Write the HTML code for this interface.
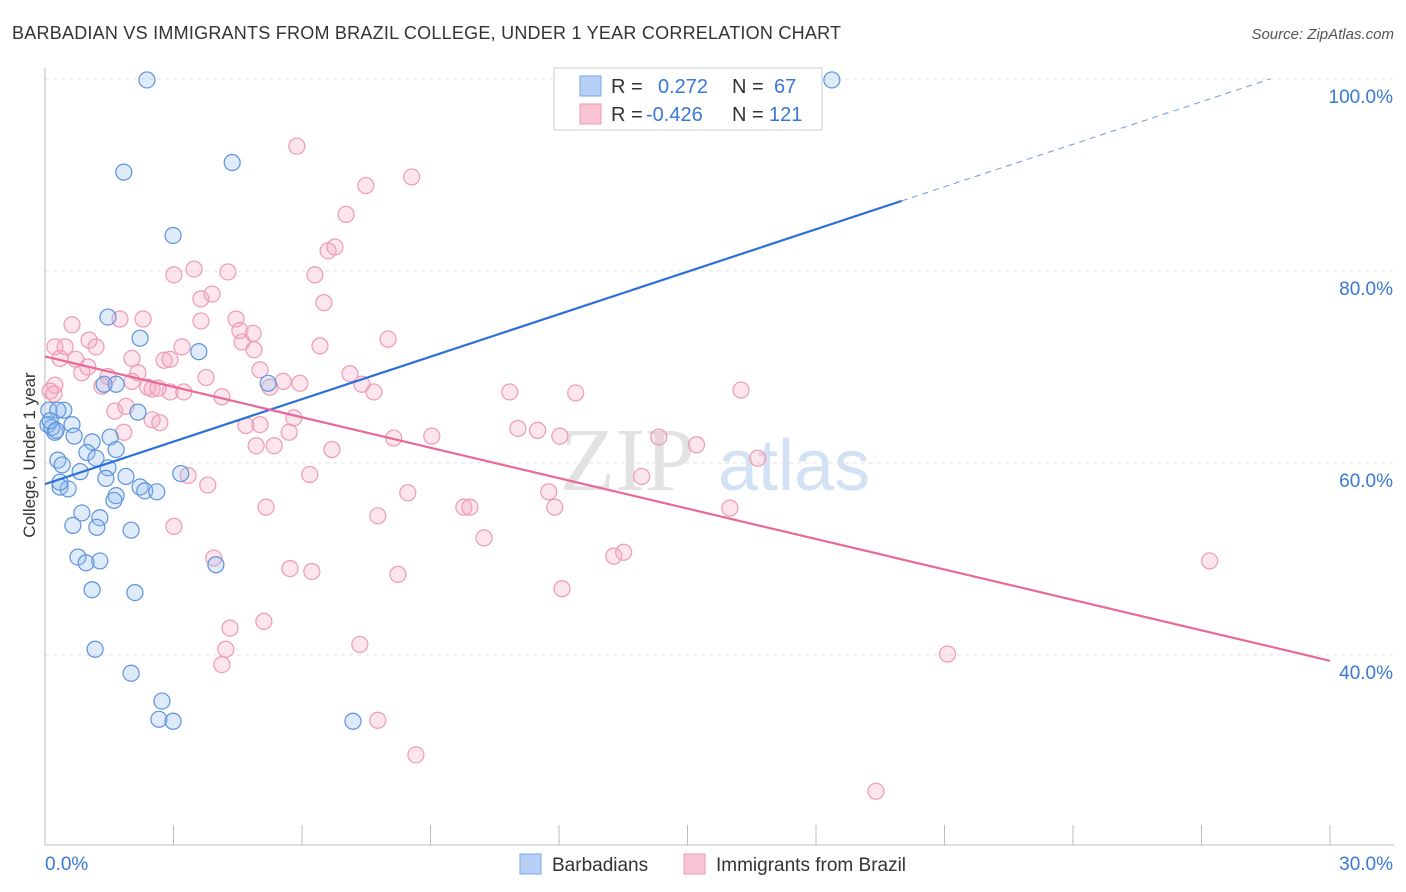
<!DOCTYPE html>
<html><head><meta charset="utf-8"><style>
body{margin:0;background:#fff;font-family:"Liberation Sans",sans-serif;}
svg{display:block}
</style></head><body>
<svg id="chart" width="1406" height="892">
<text x="12" y="39" font-size="18" fill="#333" textLength="829">BARBADIAN VS IMMIGRANTS FROM BRAZIL COLLEGE, UNDER 1 YEAR CORRELATION CHART</text>
<text x="1394" y="39" font-size="15" fill="#555" font-style="italic" text-anchor="end">Source: ZipAtlas.com</text>
<text x="35" y="455" font-size="17" fill="#333" text-anchor="middle" transform="rotate(-90 35 455)">College, Under 1 year</text>
<text x="560" y="490" font-size="90" fill="#e2e2e2" font-family="Liberation Serif,serif">ZIP</text>
<text x="718" y="490" font-size="72" fill="#d3e1f4">atlas</text>
<g id="grid"></g><g id="pts"></g><g id="lines"></g>
<g>
<rect x="554" y="68" width="268" height="62" fill="#fff" stroke="#ccc"/>
<rect x="580" y="76" width="21" height="20" fill="#b6d1f5" stroke="#7aa8e6"/>
<rect x="580" y="104" width="21" height="20" fill="#f8c4d3" stroke="#ee9ab4"/>
<text x="611" y="93" font-size="20" fill="#333">R = </text><text x="658" y="93" font-size="20" fill="#3a78d6">0.272</text>
<text x="732" y="93" font-size="20" fill="#333">N = </text><text x="774" y="93" font-size="20" fill="#3a78d6">67</text>
<text x="611" y="121" font-size="20" fill="#333">R = </text><text x="646" y="121" font-size="20" fill="#3a78d6">-0.426</text>
<text x="732" y="121" font-size="20" fill="#333">N = </text><text x="769" y="121" font-size="20" fill="#3a78d6">121</text>
</g>
<g>
<rect x="520" y="854" width="21" height="20" fill="#b6d1f5" stroke="#7aa8e6"/>
<text x="552" y="871" font-size="19" fill="#333">Barbadians</text>
<rect x="684" y="854" width="21" height="20" fill="#f8c4d3" stroke="#ee9ab4"/>
<text x="716" y="871" font-size="19" fill="#333">Immigrants from Brazil</text>
</g>
</svg>
<script>
const yTicks=[40,60,80,100];
const xTickLabels=["0.0%","30.0%"];
const blueX=[2.38,18.37,4.37,1.84,2.99,1.47,2.22,3.59,5.21,1.66,1.38,2.17,0.09,0.44,0.30,0.07,0.23,0.63,0.68,1.10,1.52,1.66,0.98,1.19,0.30,1.47,1.89,3.17,0.40,0.82,1.42,0.35,0.54,2.22,2.33,1.66,1.61,2.61,0.86,1.28,0.65,1.21,2.01,0.77,0.96,1.28,1.10,2.10,3.99,1.17,2.01,2.73,2.66,2.99,7.19,0.16,0.12,0.26,0.35];
const blueY=[99.9,99.9,91.3,90.3,83.7,75.2,73.0,71.6,68.3,68.2,68.2,65.3,65.5,65.5,65.5,64.0,63.2,64.0,62.8,62.2,62.7,61.4,61.1,60.5,60.3,59.5,58.6,58.9,59.8,59.1,58.4,57.5,57.3,57.5,57.1,56.6,56.1,57.0,54.8,54.3,53.5,53.3,53.0,50.2,49.6,49.8,46.8,46.5,49.4,40.6,38.1,35.2,33.3,33.1,33.1,63.7,64.4,63.4,58.0];
const pinkX=[5.88,7.49,8.56,7.03,6.77,6.61,3.48,3.01,4.27,3.64,3.90,6.30,6.51,0.63,1.75,2.29,4.46,4.55,4.86,3.64,8.01,6.42,0.23,0.47,1.03,1.19,3.20,4.60,4.88,0.35,0.72,2.03,2.78,2.92,1.00,0.86,2.17,5.02,7.12,1.47,3.76,5.56,0.23,1.33,2.50,2.92,2.40,2.03,2.64,5.95,7.40,7.68,10.85,12.39,16.25,3.24,5.25,4.13,1.63,1.89,2.50,2.68,5.81,4.69,5.02,1.84,5.70,11.04,11.50,12.02,9.03,8.14,14.33,15.21,4.93,5.35,6.70,16.64,13.93,3.34,6.18,3.80,8.47,11.76,5.16,9.78,9.92,11.90,15.99,7.77,3.01,10.25,3.94,13.28,13.51,5.72,6.23,8.24,27.19,12.07,4.32,5.11,4.22,7.35,4.13,21.07,7.77,8.66,19.40,0.12,0.21];
const pinkY=[93.0,88.9,89.8,85.9,82.5,82.1,80.2,79.6,79.9,77.1,77.6,79.6,76.7,74.4,75.0,75.0,75.0,73.8,73.5,74.8,72.9,72.2,72.1,72.1,72.8,72.1,72.1,72.6,71.8,70.9,70.8,70.9,70.7,70.8,70.0,69.4,69.4,69.7,69.3,69.0,68.9,68.5,68.1,68.0,67.7,67.4,67.9,68.5,67.8,68.3,68.2,67.4,67.4,67.3,67.6,67.4,67.9,66.9,65.4,65.9,64.5,64.2,64.7,63.9,64.0,63.2,63.2,63.6,63.4,62.8,62.8,62.6,62.7,61.9,61.8,61.8,61.4,60.5,58.6,58.7,58.8,57.7,56.9,57.0,55.4,55.4,55.4,55.4,55.3,54.5,53.4,52.2,50.1,50.3,50.7,49.0,48.7,48.4,49.8,46.9,42.8,43.5,40.6,41.1,39.0,40.1,33.2,29.6,25.8,67.5,67.2];
const blueFit=[[0,57.8],[20,87.3]], blueDash=[[20,87.3],[28.6,100.0]];
const pinkFit=[[0,71.1],[30,39.4]];
const X=v=>45+v/30*1285, Y=v=>1039-v*9.6;
const NS="http://www.w3.org/2000/svg";
function mk(t,a,p){const e=document.createElementNS(NS,t);for(const k in a)e.setAttribute(k,a[k]);p.appendChild(e);return e;}
const grid=document.getElementById('grid');
for(const t of yTicks){
 const l=mk('line',{x1:45,x2:1394,y1:Y(t),y2:Y(t),stroke:'#e2e2e2','stroke-dasharray':'4,4'},grid);
 
 
 const tx=mk('text',{x:1393,y:Y(t)+24,'font-size':19,fill:'#3a78d6','text-anchor':'end'},grid);
 tx.textContent=t.toFixed(1)+'%';
 
 
}
mk('line',{x1:45,x2:45,y1:68,y2:845,stroke:'#bbb'},grid);
mk('line',{x1:45,x2:1394,y1:845,y2:845,stroke:'#bbb'},grid);
for(let i=0;i<=10;i++){const x=X(i*3);const tk=mk('line',{x1:x,x2:x,y1:825,y2:845,stroke:'#bbb'},grid);
 
 }
const xl=mk('text',{x:45,y:870,'font-size':19,fill:'#3a78d6'},grid);xl.textContent=xTickLabels[0];


const xr=mk('text',{x:1393,y:870,'font-size':19,fill:'#3a78d6','text-anchor':'end'},grid);xr.textContent=xTickLabels[1];


const pts=document.getElementById('pts');
pinkX.forEach((v,i)=>{const c=mk('circle',{cx:X(v),cy:Y(pinkY[i]),r:8,fill:'rgba(246,170,195,0.3)',stroke:'#ee9ab4','stroke-width':1.2},pts);
 
 });
blueX.forEach((v,i)=>{const c=mk('circle',{cx:X(v),cy:Y(blueY[i]),r:8,fill:'rgba(150,190,240,0.3)',stroke:'#5b93dc','stroke-width':1.2},pts);
 
 });
const lines=document.getElementById('lines');
const b=mk('line',{x1:X(blueFit[0][0]),y1:Y(blueFit[0][1]),x2:X(blueFit[1][0]),y2:Y(blueFit[1][1]),stroke:'#2b6fd8','stroke-width':2.2},lines);


const bd=mk('line',{x1:X(blueDash[0][0]),y1:Y(blueDash[0][1]),x2:X(blueDash[1][0]),y2:Y(blueDash[1][1]),stroke:'#6a9ae0','stroke-width':1,'stroke-dasharray':'6,5'},lines);


const p=mk('line',{x1:X(pinkFit[0][0]),y1:Y(pinkFit[0][1]),x2:X(pinkFit[1][0]),y2:Y(pinkFit[1][1]),stroke:'#e8689a','stroke-width':2.2},lines);


</script>
</body></html>
